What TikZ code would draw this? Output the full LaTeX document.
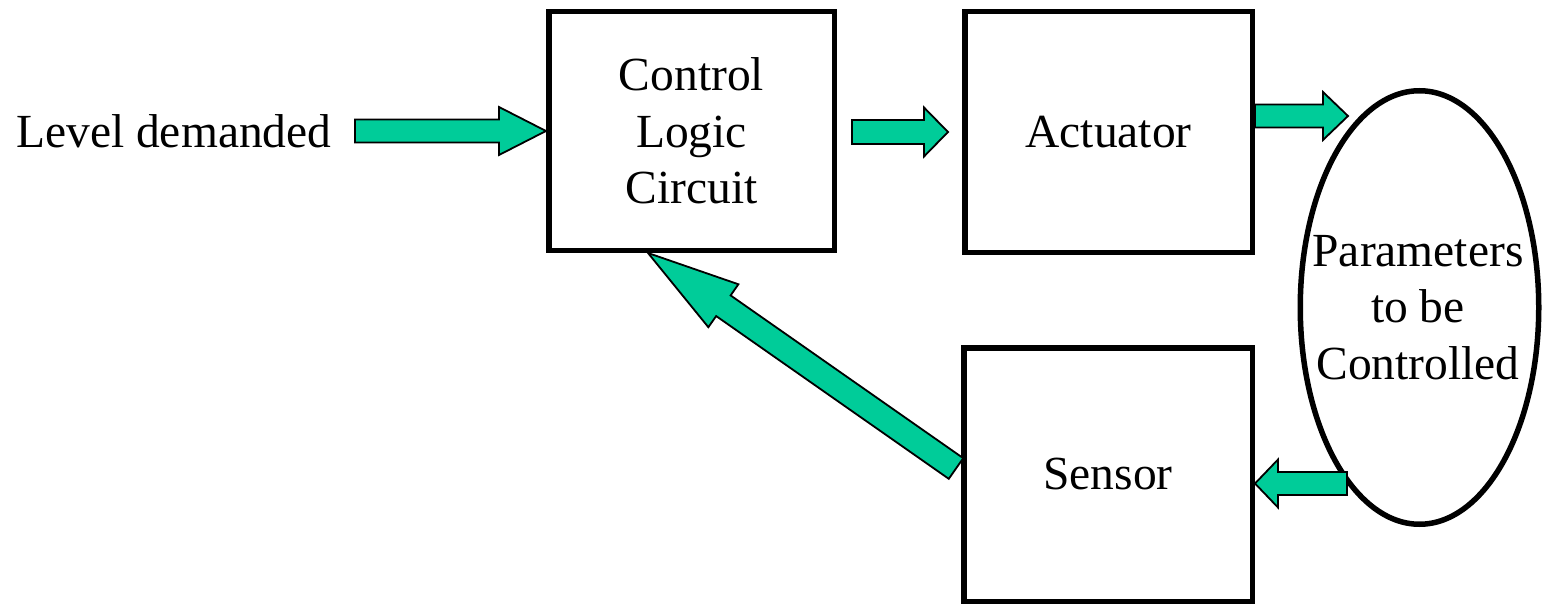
\documentclass[tikz,border=0pt]{standalone}
\usepackage{fontspec}
\setmainfont{Liberation Serif}
\usetikzlibrary{calc,shapes.geometric}
\definecolor{arrowgreen}{RGB}{0,204,153}
% block arrow: #1 tail, #2 tip, #3 shaft half width, #4 head half width, #5 head length
\newcommand{\blockarr}[5]{%
  \filldraw[blockarrow]
    ($(#1)!#3!90:(#2)$) --
    ($(#2)!#5!(#1)!#3!90:(#2)$) --
    ($(#2)!#5!(#1)!#4!90:(#2)$) --
    (#2) --
    ($(#2)!#5!(#1)!#4!-90:(#2)$) --
    ($(#2)!#5!(#1)!#3!-90:(#2)$) --
    ($(#1)!#3!-90:(#2)$) -- cycle;}
\tikzset{
  bigfont/.style={font=\fontsize{47.5}{56.5}\selectfont},
  box/.style={draw,line width=5.5pt,inner sep=0pt,align=center,bigfont},
  blockarrow/.style={fill=arrowgreen,draw=black,line width=1.8pt,line join=miter},
  plain/.style={inner sep=0pt,align=center,bigfont}
}
\begin{document}
\begin{tikzpicture}[x=1pt,y=-1pt]
\useasboundingbox (0,0) rectangle (1542,604);
% nodes
\node[plain,anchor=base west] (lvl) at (16,148) {Level demanded};
\node[box,minimum width=285.5pt,minimum height=238.5pt] (ctrl) at (691.5,131) {Control\\Logic\\Circuit};
\node[box,minimum width=287.5pt,minimum height=240.5pt] (act) at (1108.5,132) {Actuator};
\node[box,minimum width=288.5pt,minimum height=253.5pt] (sens) at (1108,474.5) {Sensor};
\node[ellipse,draw,line width=5.5pt,inner sep=0pt,minimum width=238.5pt,minimum height=433.5pt] (par) at (1419.5,307.5) {};
\node[plain] (partext) at ($(par.center)+(-1.5,0)$) {Parameters\\to be\\Controlled};
% arrow end points
\coordinate (a1s) at (355,131);
\coordinate (a2s) at (852,132);
\coordinate (a2e) at (948,132);
\coordinate (a3s) at ($(act.east)+(0,-16)$);
\coordinate (a3e) at (1348,116);
\coordinate (a4s) at (1347,483.5);
\coordinate (a4e) at ($(sens.east)+(0,9)$);
\coordinate (a5s) at ($(sens.west)+(-5,-6)$);
\coordinate (a5e) at ($(ctrl.south)+(-43.5,0)$);
% arrows
\blockarr{a1s}{ctrl.west}{11.5pt}{24pt}{47pt}
\blockarr{a2s}{a2e}{12pt}{24.5pt}{24pt}
\blockarr{a3s}{a3e}{11.5pt}{24pt}{25pt}
\blockarr{a4s}{a4e}{11.5pt}{24pt}{23pt}
\blockarr{a5s}{a5e}{12.6pt}{26.2pt}{92pt}
\end{tikzpicture}
\end{document}
